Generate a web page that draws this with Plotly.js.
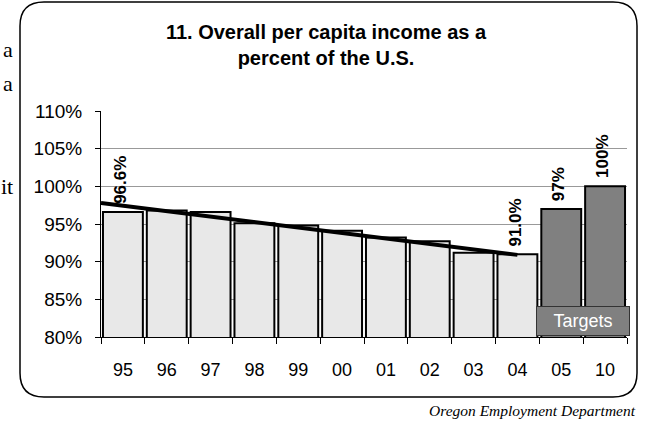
<!DOCTYPE html>
<html>
<head>
<meta charset="utf-8">
<script src="https://cdn.plot.ly/plotly-3.0.1.min.js"></script>
<style>html,body{margin:0;padding:0;background:#fff;}#chart{width:650px;height:425px;}</style>
</head>
<body>
<div id="chart"></div>
<script>
// ---- data ----
const years = ["95","96","97","98","99","00","01","02","03","04","05","10"];
const actualYears = ["95","96","97","98","99","00","01","02","03","04"];
const actualValues = [96.6, 96.8, 96.6, 95.1, 94.8, 94.1, 93.2, 92.7, 91.2, 91.0];
const targetYears = ["05","10"];
const targetValues = [97, 100];
const labelYears = ["95","04","05","10"];
const labelTexts = ["96.6%","91.0%","97%","100%"];
const trendX = [-0.5, 9];        // category index positions of trend ends
const trendY = [97.8, 90.9];
const yTickVals = [80, 85, 90, 95, 100, 105, 110];
const yTickText = ["80%","85%","90%","95%","100%","105%","110%"];
const sideText = ["a", "a", "it"];

// ---- geometry helpers (layout only) ----
const W = 650, H = 425;
const M = {l: 101, r: 23, t: 111, b: 88};
const pw = W - M.l - M.r, ph = H - M.t - M.b;
const px = x => (x - M.l) / pw;
const py = y => (H - M.b - y) / ph;

function valueOf(year) {
  let i = actualYears.indexOf(year);
  if (i >= 0) return actualValues[i];
  i = targetYears.indexOf(year);
  return targetValues[i];
}

// rounded frame path in paper coords
function framePath(x0, y0, x1, y1, r) {
  const P = (x, y) => px(x) + ',' + py(y);
  return 'M' + P(x0 + r, y0) + ' L' + P(x1 - r, y0) + ' Q' + P(x1, y0) + ' ' + P(x1, y0 + r) +
         ' L' + P(x1, y1 - r) + ' Q' + P(x1, y1) + ' ' + P(x1 - r, y1) +
         ' L' + P(x0 + r, y1) + ' Q' + P(x0, y1) + ' ' + P(x0, y1 - r) +
         ' L' + P(x0, y0 + r) + ' Q' + P(x0, y0) + ' ' + P(x0 + r, y0) + ' Z';
}

const traces = [
  {
    type: 'bar', x: actualYears, y: actualValues, name: 'Actual',
    marker: {color: '#e8e8e8', line: {color: '#000', width: 2}},
    hoverinfo: 'x+y'
  },
  {
    type: 'bar', x: targetYears, y: targetValues, name: 'Targets',
    marker: {color: '#808080', line: {color: '#000', width: 2}},
    hoverinfo: 'x+y'
  },
  {
    type: 'scatter', mode: 'lines', x: trendX, y: trendY, xaxis: 'x2',
    line: {color: '#000', width: 4}, name: 'Trend', hoverinfo: 'skip'
  }
];

const annotations = labelYears.map((yr, i) => ({
  x: years.indexOf(yr), y: valueOf(yr), xref: 'x', yref: 'y',
  text: labelTexts[i], textangle: -90, showarrow: false,
  xanchor: 'center', yanchor: 'bottom', yshift: 6, xshift: -2,
  font: {family: 'Liberation Sans, Arial, sans-serif', size: 17, color: '#000', weight: 'bold'}
}));

annotations.push({
  xref: 'paper', yref: 'paper', x: px(583), y: py(320.5),
  xanchor: 'center', yanchor: 'middle', showarrow: false,
  text: 'Targets', width: 92, height: 28, bgcolor: '#808080',
  bordercolor: '#333', borderwidth: 1, borderpad: 0,
  font: {family: 'Liberation Sans, Arial, sans-serif', size: 18, color: '#fff'}
});

annotations.push({
  xref: 'paper', yref: 'paper', x: px(638), y: py(410),
  xanchor: 'right', yanchor: 'middle', showarrow: false,
  text: 'Oregon Employment Department',
  font: {family: 'Liberation Serif, Times New Roman, serif', size: 15.5, color: '#000', style: 'italic'}
});

const sideY = [50, 83, 186];
sideText.forEach((t, i) => annotations.push({
  xref: 'paper', yref: 'paper', x: px(15), y: py(sideY[i]),
  xanchor: 'right', yanchor: 'middle', showarrow: false, text: t,
  font: {family: 'Liberation Serif, Times New Roman, serif', size: 22, color: '#000'}
}));

const layout = {
  width: W, height: H,
  margin: M,
  paper_bgcolor: '#fff', plot_bgcolor: '#fff',
  showlegend: false,
  barmode: 'overlay',
  bargap: 0.09,
  title: {
    text: '<b>11. Overall per capita income as a<br>percent of the U.S.</b>',
    x: 326 / W, xref: 'container', xanchor: 'center',
    y: 1 - 39 / H, yref: 'container', yanchor: 'top',
    font: {family: 'Liberation Sans, Arial, sans-serif', size: 20, color: '#000'}
  },
  xaxis: {
    type: 'category', categoryorder: 'array', categoryarray: years,
    range: [-0.5, 11.5],
    showline: true, linecolor: '#000', linewidth: 1,
    ticks: 'outside', tickson: 'boundaries', ticklen: 6, tickcolor: '#000',
    showgrid: false, zeroline: false,
    tickfont: {family: 'Liberation Sans, Arial, sans-serif', size: 18, color: '#000'},
    ticklabelstandoff: 16
  },
  xaxis2: {
    overlaying: 'x', range: [-0.5, 11.5], visible: false, showgrid: false, zeroline: false
  },
  yaxis: {
    range: [80, 110],
    tickvals: yTickVals, ticktext: yTickText,
    showline: true, linecolor: '#000', linewidth: 1,
    ticks: 'outside', ticklen: 5, tickcolor: '#000',
    showgrid: true, gridcolor: '#999', gridwidth: 1, zeroline: false,
    tickfont: {family: 'Liberation Sans, Arial, sans-serif', size: 19, color: '#000'},
    ticklabelstandoff: 9
  },
  shapes: [{
    type: 'path', xref: 'paper', yref: 'paper', layer: 'below',
    path: framePath(20, 2, 637, 397, 24),
    line: {color: '#000', width: 1.5}, fillcolor: 'rgba(0,0,0,0)'
  }],
  annotations: annotations
};

Plotly.newPlot('chart', traces, layout, {displayModeBar: false, staticPlot: true});
</script>
</body>
</html>
